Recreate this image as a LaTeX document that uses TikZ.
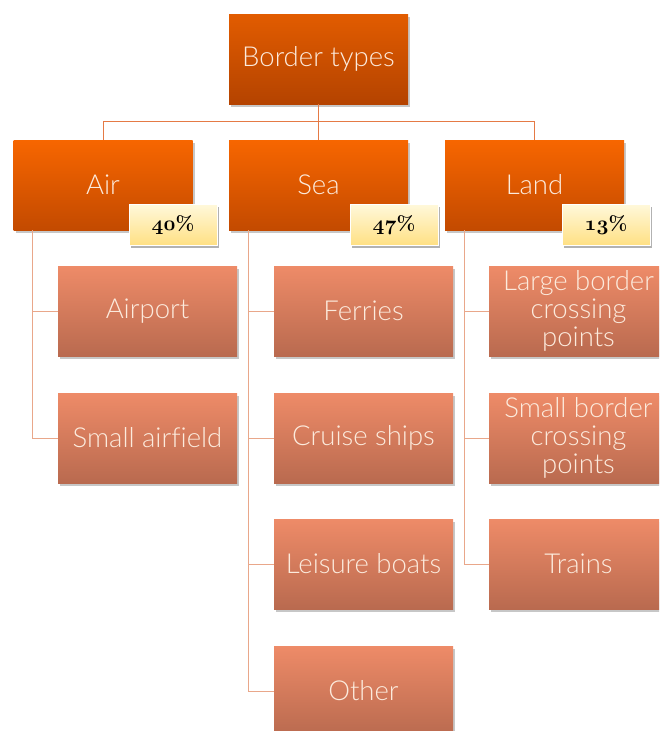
\documentclass[tikz,border=0pt]{standalone}
\usepackage{fontspec}
\newfontfamily\lightfont{Lato Light}[Ligatures=NoCommon]
\usetikzlibrary{shadows}
\definecolor{topA}{HTML}{E25C00}
\definecolor{topB}{HTML}{B44300}
\definecolor{midA}{HTML}{F76600}
\definecolor{midB}{HTML}{C34A00}
\definecolor{kidA}{HTML}{EE8B68}
\definecolor{kidB}{HTML}{B96A4F}
\definecolor{txt}{HTML}{FCEBDD}
\definecolor{busline}{HTML}{E57A45}
\definecolor{kidline}{HTML}{E9A78A}
\definecolor{pctA}{HTML}{FFF8DA}
\definecolor{pctB}{HTML}{FFE083}
\tikzset{
  box/.style={rectangle, minimum width=179pt, minimum height=90pt, inner sep=0pt,
    align=center, text=txt, font=\lightfont\fontsize{27.5}{28}\selectfont,
    drop shadow={shadow xshift=2pt, shadow yshift=-3pt, opacity=0.22, fill=black}},
  rootbox/.style={box, top color=topA, bottom color=topB},
  catbox/.style={box, top color=midA, bottom color=midB},
  kidbox/.style={box, top color=kidA, bottom color=kidB},
  pct/.style={rectangle, minimum width=88pt, minimum height=41pt, inner sep=0pt,
    top color=pctA, bottom color=pctB, draw=white, line width=0.8pt,
    font=\fontsize{20}{22}\selectfont\bfseries,
    drop shadow={shadow xshift=1.5pt, shadow yshift=-2pt, opacity=0.3, fill=black}},
  bus/.style={draw=busline, line width=1pt},
  kline/.style={draw=kidline, line width=1pt}
}
\newcommand{\pc}[1]{{\usefont{OML}{cmm}{b}{it}#1}\%}
\begin{document}
\begin{tikzpicture}[x=1pt,y=-1pt]
\useasboundingbox (0,0) rectangle (659,731);
\clip (0,0) rectangle (659,731);
\coordinate (j) at (318.5,121);
\coordinate (a0) at (32,230);
\coordinate (s0) at (248,230);
\coordinate (l0) at (464,230);
\node[rootbox] (root) at (318.5,59) {Border types};
\node[catbox] (air) at (103,185) {Air};
\node[catbox] (sea) at (318.5,185) {Sea};
\node[catbox] (land) at (534.5,185) {Land};
\path[bus] (root.south) -- (j);
\path[bus] (j) -| (air.north);
\path[bus] (j) -| (sea.north);
\path[bus] (j) -| (land.north);
% children
\node[kidbox] (airport) at (147.5,311) {Airport};
\node[kidbox] (airfield) at (147.5,438) {Small airfield};
\node[kidbox] (ferries) at (363.5,311) {Ferries};
\node[kidbox] (cruise) at (363.5,438) {Cruise ships};
\node[kidbox] (leisure) at (363.5,564) {Leisure boats};
\node[kidbox] (other) at (363.5,691) {Other};
\node[kidbox] (large) at (578.5,311) {Large border\\crossing\\points};
\node[kidbox] (small) at (578.5,438) {Small border\\crossing\\points};
\node[kidbox] (trains) at (578.5,564) {Trains};
\path[kline] (a0) |- (airport.west);
\path[kline] (a0) |- (airfield.west);
\path[kline] (s0) |- (ferries.west);
\path[kline] (s0) |- (cruise.west);
\path[kline] (s0) |- (leisure.west);
\path[kline] (s0) |- (other.west);
\path[kline] (l0) |- (large.west);
\path[kline] (l0) |- (small.west);
\path[kline] (l0) |- (trains.west);
% percentages
\node[pct] (pa) at (173,225) {\pc{40}};
\node[pct] (ps) at (394,225) {\pc{47}};
\node[pct] (pl) at (606,225) {\pc{13}};
\end{tikzpicture}
\end{document}
